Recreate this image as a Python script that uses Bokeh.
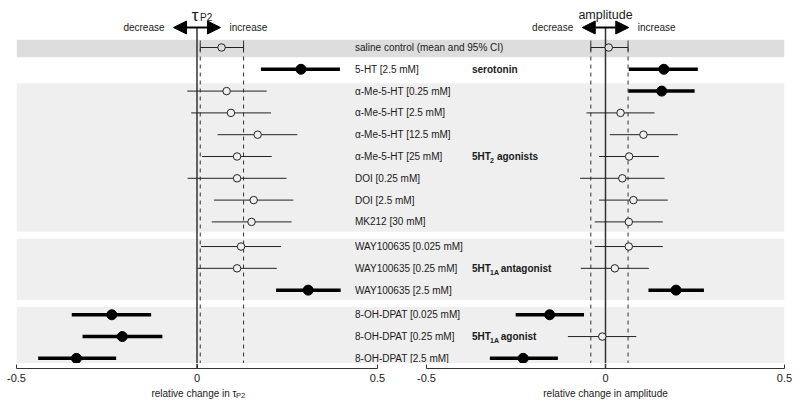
from bokeh.plotting import figure
from bokeh.layouts import column, row
from bokeh.models import Range1d, FixedTicker, BoxAnnotation, Arrow, NormalHead
from bokeh.core.properties import value
from bokeh.embed import file_html
from bokeh.resources import INLINE

# ---------------- data ----------------
treatments = ["saline control (mean and 95% CI)", "5-HT [2.5 mM]",
              "α-Me-5-HT [0.25 mM]", "α-Me-5-HT [2.5 mM]", "α-Me-5-HT [12.5 mM]",
              "α-Me-5-HT [25 mM]", "DOI [0.25 mM]", "DOI [2.5 mM]", "MK212 [30 mM]",
              "WAY100635 [0.025 mM]", "WAY100635 [0.25 mM]", "WAY100635 [2.5 mM]",
              "8-OH-DPAT [0.025 mM]", "8-OH-DPAT [0.25 mM]", "8-OH-DPAT [2.5 mM]"]
group_of = [0, 1, 2, 2, 2, 2, 2, 2, 2, 3, 3, 3, 4, 4, 4]

tau_mean = [0.068, 0.288, 0.082, 0.094, 0.168, 0.111, 0.111, 0.157, 0.151, 0.122, 0.111, 0.308, -0.236, -0.207, -0.334]
tau_lo = [0.009, 0.177, -0.027, -0.016, 0.057, 0.014, -0.026, 0.047, 0.041, 0.011, 0.001, 0.219, -0.347, -0.317, -0.440]
tau_hi = [0.129, 0.396, 0.193, 0.205, 0.278, 0.207, 0.248, 0.267, 0.262, 0.233, 0.221, 0.398, -0.127, -0.096, -0.224]
tau_sig = [0, 1, 0, 0, 0, 0, 0, 0, 0, 0, 0, 1, 1, 1, 1]

amp_mean = [0.009, 0.163, 0.157, 0.042, 0.106, 0.066, 0.047, 0.078, 0.065, 0.065, 0.026, 0.197, -0.156, -0.009, -0.230]
amp_lo = [-0.041, 0.065, 0.064, -0.053, 0.012, -0.018, -0.071, -0.018, -0.030, -0.030, -0.069, 0.120, -0.251, -0.105, -0.323]
amp_hi = [0.063, 0.258, 0.249, 0.137, 0.202, 0.149, 0.165, 0.174, 0.160, 0.160, 0.121, 0.275, -0.060, 0.086, -0.133]
amp_sig = [0, 1, 1, 0, 0, 0, 0, 0, 0, 0, 0, 1, 1, 0, 1]

group_main = ["", "serotonin", "5HT", "5HT", "5HT"]
group_sub = ["", "", "2", "1A", "1A"]
group_rest = ["", "", "agonists", "antagonist", "agonist"]
group_shade = ["#dddddd", None, "#efefef", "#efefef", "#efefef"]
gap_groups = [3, 4]

panel_titles = ["τ", "amplitude"]
panel_title_subs = ["P2", ""]
dir_labels = ["decrease", "increase"]
axis_labels = ["relative change in τ", "relative change in amplitude"]
axis_label_subs = ["P2", ""]
ticks = [-0.5, 0, 0.5]
tick_labels = ["-0.5", "0", "0.5"]

# ---------------- layout constants ----------------
W = 792
AX_H = 23          # tick strip height
AX_FRAME = 5       # tick strip frame height (room for inward ticks)
LAB_H = 14         # axis-label strip height
MAIN_H = 400 - AX_H - LAB_H
L_PX0, L_SCALE = 16, 361.0      # left panel: x of -0.5, px per unit
R_PX0, R_SCALE = 426, 358.0     # right panel: x of -0.5, px per unit
FRAME_L, FRAME_R = L_PX0, 8
FRAME_W = W - FRAME_L - FRAME_R
ROW_PX, ROW0 = 21.8, 47.0
GAP = 0.13

def yrow(px):
    return (px - ROW0) / ROW_PX

Y_TOP = yrow(0)
Y_BOTTOM = yrow(MAIN_H)

ys = []
cum = 0
for i, g in enumerate(group_of):
    if i > 0 and g != group_of[i - 1] and g in gap_groups:
        cum += 1
    ys.append(i + GAP * cum)

L_START = -0.5
L_END = L_START + FRAME_W / L_SCALE
R_START = -0.5 - (R_PX0 - FRAME_L) / R_SCALE
R_END = R_START + FRAME_W / R_SCALE

FONT = value("Liberation Sans")
TXT = "#1a1a1a"
LINE = "#222222"
ZERO = "#333333"

def bare_fig(height, y_range):
    f = figure(width=W, height=height, output_backend="svg", toolbar_location=None,
               x_range=Range1d(L_START, L_END), y_range=y_range,
               x_axis_location=None, y_axis_location=None,
               min_border_left=FRAME_L, min_border_right=FRAME_R,
               min_border_top=0, min_border_bottom=0)
    f.extra_x_ranges = {"right": Range1d(R_START, R_END)}
    f.xgrid.visible = False
    f.ygrid.visible = False
    f.outline_line_color = None
    f.background_fill_color = "white"
    f.border_fill_color = "white"
    return f

p = bare_fig(MAIN_H, Range1d(Y_BOTTOM, Y_TOP))

# ---------------- bands ----------------
row_fill = []
for i, g in enumerate(group_of):
    row_fill.append(group_shade[g] if group_shade[g] else "white")
for g, shade in enumerate(group_shade):
    if shade is None:
        continue
    rows = [ys[i] for i in range(len(ys)) if group_of[i] == g]
    p.add_layout(BoxAnnotation(top=min(rows) - 0.36, bottom=max(rows) + 0.45,
                               fill_color=shade, fill_alpha=1.0, line_color=None,
                               level="underlay"))

# ---------------- panels ----------------
ARROW_Y = yrow(27)
panels = [("default", tau_mean, tau_lo, tau_hi, tau_sig),
          ("right", amp_mean, amp_lo, amp_hi, amp_sig)]
for k, (rn, mean, lo, hi, sig) in enumerate(panels):
    p.segment(x0=[0], y0=[ARROW_Y], x1=[0], y1=[Y_BOTTOM], line_color=ZERO,
              line_width=1.5, x_range_name=rn)
    p.segment(x0=[lo[0], hi[0]], y0=[ys[0] - 0.32] * 2, x1=[lo[0], hi[0]],
              y1=[Y_BOTTOM] * 2, line_color=ZERO, line_width=1,
              line_dash="4 4", x_range_name=rn)
    p.segment(x0=[lo[0], hi[0]], y0=[ys[0] - 0.15] * 2, x1=[lo[0], hi[0]],
              y1=[ys[0] + 0.15] * 2, line_color=LINE, line_width=1, x_range_name=rn)
    thin = [i for i in range(len(ys)) if not sig[i]]
    thick = [i for i in range(len(ys)) if sig[i]]
    p.segment(x0=[lo[i] for i in thin], x1=[hi[i] for i in thin],
              y0=[ys[i] for i in thin], y1=[ys[i] for i in thin],
              line_color=LINE, line_width=1, x_range_name=rn)
    p.segment(x0=[lo[i] for i in thick], x1=[hi[i] for i in thick],
              y0=[ys[i] for i in thick], y1=[ys[i] for i in thick],
              line_color="black", line_width=3.5, x_range_name=rn)
    p.scatter(x=[mean[i] for i in thin], y=[ys[i] for i in thin], size=7.5,
              marker="circle", fill_color=[row_fill[i] for i in thin],
              line_color=LINE, line_width=1, x_range_name=rn)
    p.scatter(x=[mean[i] for i in thick], y=[ys[i] for i in thick], size=10,
              marker="circle", fill_color="black", line_color="black",
              x_range_name=rn)
    p.add_layout(Arrow(start=NormalHead(size=13, fill_color="black", line_color="black"),
                       end=NormalHead(size=13, fill_color="black", line_color="black"),
                       x_start=-0.065, x_end=0.065, y_start=ARROW_Y, y_end=ARROW_Y,
                       line_width=2, line_color="black", x_range_name=rn))
    p.text(x=[-0.065], y=[ARROW_Y], text=[dir_labels[0]], x_offset=-9,
           text_align="right", text_baseline="middle", text_font=FONT,
           text_font_size="10px", text_color=TXT, x_range_name=rn)
    p.text(x=[0.065], y=[ARROW_Y], text=[dir_labels[1]], x_offset=9,
           text_align="left", text_baseline="middle", text_font=FONT,
           text_font_size="10px", text_color=TXT, x_range_name=rn)

# panel titles
p.text(x=[0], y=[yrow(15)], text=[panel_titles[0]], x_offset=-2, text_align="center",
       text_baseline="alphabetic", text_font=FONT, text_font_size="17px",
       text_color=TXT)
p.text(x=[0], y=[yrow(17)], text=[panel_title_subs[0]], x_offset=3, text_align="left",
       text_baseline="alphabetic", text_font=FONT, text_font_size="10px",
       text_color=TXT)
p.text(x=[0], y=[yrow(14)], text=[panel_titles[1]], text_align="center",
       text_baseline="alphabetic", text_font=FONT, text_font_size="12.5px",
       text_color=TXT, x_range_name="right")

# treatment labels
LABEL_X = (355 - 197) / L_SCALE
p.text(x=[LABEL_X] * len(ys), y=ys, text=treatments, text_align="left",
       text_baseline="middle", text_font=FONT, text_font_size="10px",
       text_color=TXT)

# group labels
GROUP_X = (472 - 197) / L_SCALE
gy, gm, gs, gr = [], [], [], []
for g in range(len(group_main)):
    if not group_main[g]:
        continue
    rows = [ys[i] for i in range(len(ys)) if group_of[i] == g]
    gy.append(rows[len(rows) // 2])
    gm.append(group_main[g])
    gs.append(group_sub[g])
    gr.append(group_rest[g])
p.text(x=[GROUP_X] * len(gy), y=gy, text=gm, text_align="left",
       text_baseline="middle", text_font=FONT, text_font_size="10px",
       text_font_style="bold", text_color=TXT)
p.text(x=[GROUP_X] * len(gy), y=gy, text=gs, x_offset=18, y_offset=4,
       text_align="left", text_baseline="middle", text_font=FONT,
       text_font_size="7px", text_font_style="bold", text_color=TXT)
for yy, s, r in zip(gy, gs, gr):
    if r:
        p.text(x=[GROUP_X], y=[yy], text=[r], x_offset=18 + 3.9 * len(s) + 3,
               text_align="left", text_baseline="middle", text_font=FONT,
               text_font_size="10px", text_font_style="bold", text_color=TXT)

# ---------------- tick strips ----------------
def axis_fig(width, border_l, border_r):
    f = figure(width=width, height=AX_H, output_backend="svg", toolbar_location=None,
               x_range=Range1d(-0.5, 0.5), y_range=Range1d(0, 1),
               y_axis_location=None, min_border_left=border_l,
               min_border_right=border_r, min_border_top=0,
               min_border_bottom=AX_H - AX_FRAME)
    f.xgrid.visible = False
    f.ygrid.visible = False
    f.outline_line_color = None
    f.background_fill_color = "white"
    f.border_fill_color = "white"
    f.segment(x0=[0], y0=[0], x1=[0], y1=[1], line_color=ZERO, line_width=1.5)
    ax = f.xaxis[0]
    ax.ticker = FixedTicker(ticks=ticks)
    ax.bounds = (-0.5, 0.5)
    ax.major_label_overrides = {t: s for t, s in zip(ticks, tick_labels)}
    ax.major_tick_in = 4
    ax.major_tick_out = 0
    ax.minor_tick_line_color = None
    ax.axis_line_color = ZERO
    ax.major_tick_line_color = ZERO
    ax.major_label_text_font = "Liberation Sans"
    ax.major_label_text_font_size = "11px"
    ax.major_label_text_color = TXT
    ax.major_label_standoff = 5
    return f

LW = 396
left_ax = axis_fig(LW, L_PX0, LW - L_PX0 - int(round(L_SCALE)))
right_ax = axis_fig(W - LW, R_PX0 - LW, W - R_PX0 - int(round(R_SCALE)))

# ---------------- axis labels strip ----------------
lab = bare_fig(LAB_H, Range1d(0, 1))
lab.text(x=[0], y=[0.5], text=[axis_labels[0]], x_offset=-3, text_align="center",
         text_baseline="middle", text_font=FONT, text_font_size="10px",
         text_color=TXT)
lab.text(x=[0], y=[0.5], text=[axis_label_subs[0]], x_offset=39, y_offset=2,
         text_align="left", text_baseline="middle", text_font=FONT,
         text_font_size="7.5px", text_color=TXT)
lab.text(x=[0], y=[0.5], text=[axis_labels[1]], text_align="center",
         text_baseline="middle", text_font=FONT, text_font_size="10px",
         text_color=TXT, x_range_name="right")

layout = column(p, row(left_ax, right_ax), lab)
open("out.html", "w").write(file_html(layout, INLINE))
